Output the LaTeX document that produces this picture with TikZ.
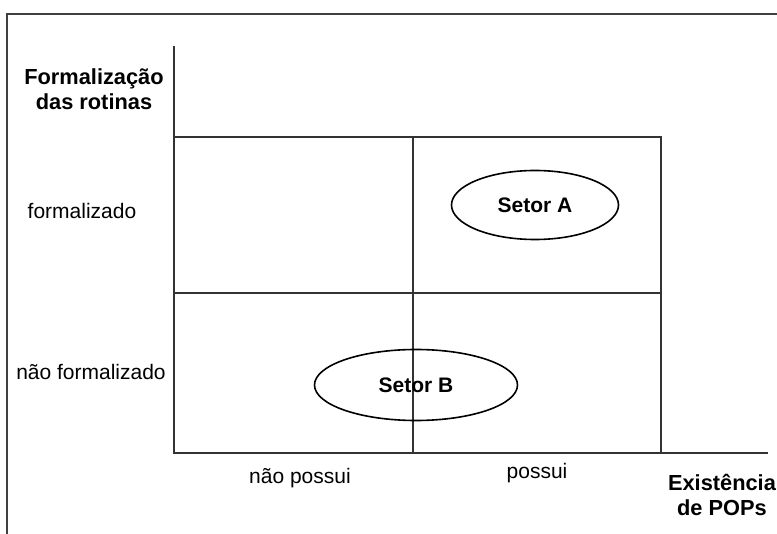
\documentclass[tikz,border=0pt]{standalone}
\usepackage{fontspec}
\setmainfont{Liberation Sans}
\usetikzlibrary{positioning,shapes}

\tikzset{
	gridline/.style={line width=1.4pt, black!80},
	setor/.style={draw, ellipse, line width=1.6pt, inner sep=0pt, font=\fontsize{21}{25}\selectfont\bfseries},
	rotulo/.style={font=\fontsize{21}{25}\selectfont, align=center, inner sep=0pt},
	titulo/.style={font=\fontsize{21.8}{25.5}\selectfont\bfseries, align=center, inner sep=0pt}
}

\begin{document}
\begin{tikzpicture}[x=1pt,y=-1pt]
		
		\useasboundingbox (0,0) rectangle (777,534);
		
		% moldura
		\draw[line width=1.6pt, black!75] (777,14) -- (7,14) -- (7,534);
		
		% eixos
		\coordinate (topo) at (174,46);
		\coordinate (origem) at (174,453);
		\coordinate (fim) at (768,453);
		\draw[gridline] (topo) -- (origem) -- (fim);
		
		% quadrantes
		\coordinate (c1) at (174,137);
		\coordinate (c2) at (661,137);
		\coordinate (c3) at (661,453);
		\coordinate (m1) at (413,137);
		\coordinate (m2) at (413,453);
		\coordinate (h1) at (174,293);
		\coordinate (h2) at (661,293);
		\draw[gridline] (c1) -- (c2) -- (c3);
		\draw[gridline] (m1) -- (m2);
		\draw[gridline] (h1) -- (h2);
		
		% setores
		\node[setor, minimum width=167, minimum height=69] (setorA) at (535,205) {Setor A};
		\node[setor, minimum width=203, minimum height=71] (setorB) at (416,385) {Setor B};
		
		% rotulos
		\node[titulo] (formalizacao) at (94,89) {Formalização\\das rotinas};
		\node[rotulo] (formal) at (82,211) {formalizado};
		\node[rotulo] (naoformal) at (91,372) {não formalizado};
		\node[rotulo] (naopossui) at (300,478) {não possui};
		\node[rotulo] (possui) at (537,473) {possui};
		\node[titulo] (existencia) at (722,495) {Existência\\de POPs};
		
	\end{tikzpicture}
\end{document}
